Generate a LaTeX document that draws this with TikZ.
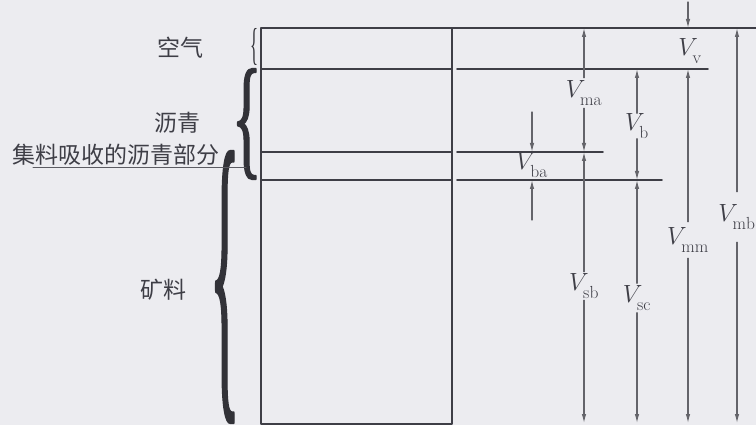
\documentclass[tikz,border=0pt]{standalone}
\usepackage{fontspec}
\usepackage{graphicx}
\usepackage{tikz}
\usetikzlibrary{arrows.meta}
\newfontfamily\cjk{Noto Sans CJK SC}
\newfontfamily\bracefont{Liberation Serif}
\newfontfamily\bracebold{Liberation Serif}[FakeBold=1.6]
\definecolor{paper}{RGB}{236,236,240}
\definecolor{ink}{RGB}{62,62,70}
\definecolor{arrowgray}{RGB}{100,100,106}
\newcommand{\vsub}[1]{$V_{\lower4pt\hbox{$\scriptstyle\mathrm{#1}$}}$}

\begin{document}
\begin{tikzpicture}[line cap=round,line join=round,>={Latex[length=9pt,width=4.5pt]},x=1pt,y=-1pt,
  layer/.style={draw=ink,line width=1.6pt},
  dim/.style={->,draw=arrowgray,line width=1.1pt},
  vol/.style={text=ink,inner sep=0pt,font=\fontsize{25}{30}\selectfont},
  lbl/.style={text=ink,inner sep=0pt,font=\cjk\fontsize{23}{28}\selectfont},
  brc/.style={text=ink!80!black,inner sep=0pt,anchor=east}]
\useasboundingbox (0,0) rectangle (756,425);
\fill[paper] (0,0) rectangle (756,425);
\coordinate (top) at (0,28);
\coordinate (l2) at (0,69);
\coordinate (l3) at (0,152);
\coordinate (l4) at (0,180);
\coordinate (bot) at (0,423);
\draw[layer] (261,28) rectangle (452,424);
\draw[layer] (452,28) -- (756,28);
\draw[layer] (261,69) -- (452,69);
\draw[layer] (261,152) -- (452,152);
\draw[layer] (261,180) -- (452,180);
\draw[layer] (457,69) -- (708,69);
\draw[layer] (457,152) -- (603,152);
\draw[layer] (457,180) -- (662,180);
\node[lbl] (air) at (180,48) {空气};
\node[lbl] (asph) at (177,123) {沥青};
\node[lbl] (absorb) at (116,155) {集料吸收的沥青部分};
\node[lbl] (agg) at (163,290) {矿料};
\node[brc] (bair) at (259,47) {\resizebox*{8pt}{37pt}{\bracefont\{}};
\node[brc] (basp) at (262,124) {\resizebox*{30pt}{110pt}{\bracebold\{}};
\node[brc] (bagg) at (240,287) {\resizebox*{30pt}{268pt}{\bracebold\{}};
\coordinate (ulstart) at (33,168);
\coordinate (ulend) at (246,168);
\draw[draw=ink!85,line width=1pt] (ulstart) -- (ulend);
\node[vol] (vv) at (690,51) {\vsub{v}};
\node[vol,minimum height=30pt] (vma) at (584,93) {\vsub{ma}};
\node[vol,minimum height=25pt] (vb) at (637,126) {\vsub{b}};
\node[vol] (vba) at (532,165) {\vsub{ba}};
\node[vol,minimum height=36pt] (vmm) at (688,240) {\vsub{mm}};
\node[vol,minimum height=50pt] (vmb) at (737,217) {\vsub{mb}};
\node[vol,minimum height=28pt] (vsb) at (584,286) {\vsub{sb}};
\node[vol,minimum height=29pt] (vsc) at (637,298) {\vsub{sc}};
\coordinate (vvin) at (688,2);
\coordinate (vbain) at (532,112);
\coordinate (vbaout) at (532,220);
\draw[dim] (vvin) -- (vvin |- top);
\draw[dim] (vma) -- (vma |- top);
\draw[dim] (vma) -- (vma |- l3);
\draw[dim] (vb) -- (vb |- l2);
\draw[dim] (vb) -- (vb |- l4);
\draw[dim] (vbain) -- (vbain |- l3);
\draw[dim] (vbaout) -- (vbaout |- l4);
\draw[dim] (vmm) -- (vmm |- l2);
\draw[dim] (vmm) -- (vmm |- bot);
\draw[dim] (vmb) -- (vmb |- top);
\draw[dim] (vmb) -- (vmb |- bot);
\draw[dim] (vsb) -- (vsb |- l3);
\draw[dim] (vsb) -- (vsb |- bot);
\draw[dim] (vsc) -- (vsc |- l4);
\draw[dim] (vsc) -- (vsc |- bot);
\end{tikzpicture}
\end{document}
